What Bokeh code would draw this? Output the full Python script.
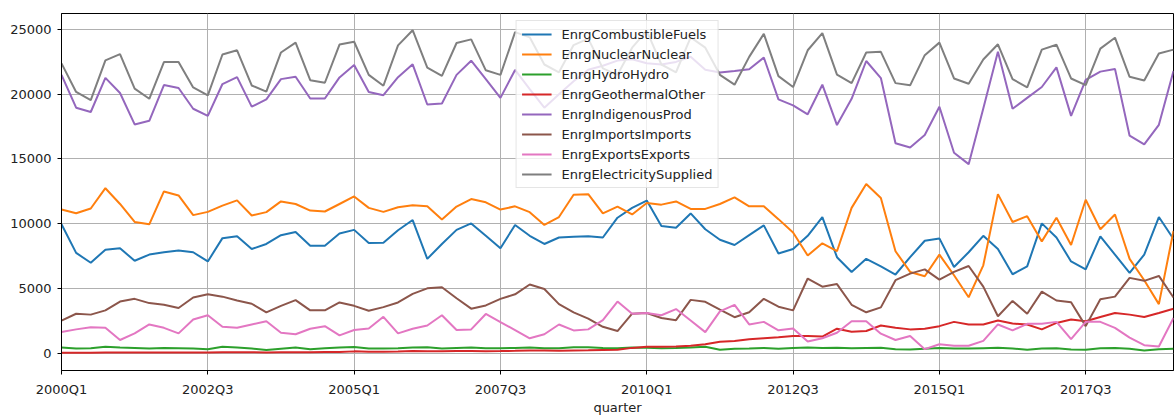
from bokeh.plotting import figure
from bokeh.models import Range1d, FixedTicker, Legend, LegendItem, ColumnDataSource
from bokeh.embed import file_html
from bokeh.resources import INLINE

quarters = [
    "2000Q1","2000Q2","2000Q3","2000Q4","2001Q1","2001Q2","2001Q3","2001Q4",
    "2002Q1","2002Q2","2002Q3","2002Q4","2003Q1","2003Q2","2003Q3","2003Q4",
    "2004Q1","2004Q2","2004Q3","2004Q4","2005Q1","2005Q2","2005Q3","2005Q4",
    "2006Q1","2006Q2","2006Q3","2006Q4","2007Q1","2007Q2","2007Q3","2007Q4",
    "2008Q1","2008Q2","2008Q3","2008Q4","2009Q1","2009Q2","2009Q3","2009Q4",
    "2010Q1","2010Q2","2010Q3","2010Q4","2011Q1","2011Q2","2011Q3","2011Q4",
    "2012Q1","2012Q2","2012Q3","2012Q4","2013Q1","2013Q2","2013Q3","2013Q4",
    "2014Q1","2014Q2","2014Q3","2014Q4","2015Q1","2015Q2","2015Q3","2015Q4",
    "2016Q1","2016Q2","2016Q3","2016Q4","2017Q1","2017Q2","2017Q3","2017Q4",
    "2018Q1","2018Q2","2018Q3","2018Q4","2019Q1",
]
tick_labels = ["2000Q1", "2002Q3", "2005Q1", "2007Q3", "2010Q1", "2012Q3", "2015Q1", "2017Q3"]

combustible_fuels = [
    9950, 7740, 6980, 7990, 8100, 7130, 7610, 7790, 7920, 7790,
    7080, 8880, 9030, 8040, 8430, 9110, 9360, 8300, 8300, 9240,
    9520, 8500, 8530, 9490, 10280, 7280, 8430, 9520, 10020, 9060,
    8100, 9900, 9060, 8430, 8930, 8980, 9030, 8930, 10460, 11220,
    11780, 9820, 9690, 10790, 9570, 8760, 8350, 9110, 9870, 7690,
    8040, 9060, 10510, 7410, 6270, 7280, 6700, 6070, 7410, 8680,
    8860, 6650, 7790, 9060, 8040, 6090, 6700, 10020, 8930, 7080,
    6470, 9010, 7610, 6190, 7610, 10510, 8810,
]
nuclear = [
    11090, 10810, 11170, 12740, 11520, 10130, 9950, 12490, 12180, 10660,
    10910, 11390, 11800, 10630, 10890, 11720, 11520, 11010, 10940, 11520,
    12100, 11220, 10910, 11270, 11420, 11340, 10330, 11320, 11900, 11650,
    11090, 11340, 10890, 9900, 10510, 12230, 12280, 10790, 11320, 10710,
    11600, 11470, 11720, 11140, 11140, 11520, 12030, 11340, 11340, 10350,
    9310, 7540, 8480, 7870, 11220, 13070, 11980, 7870, 6270, 5940,
    7610, 6010, 4310, 6780, 12280, 10130, 10580, 8630, 10460, 8350,
    11850, 9570, 10710, 7280, 5630, 3780, 9440,
]
hydro = [
    430, 350, 380, 480, 430, 400, 350, 400, 380, 350,
    300, 480, 430, 350, 230, 330, 430, 300, 380, 430,
    460, 350, 350, 380, 420, 440, 360, 400, 430, 370,
    380, 400, 420, 380, 370, 450, 440, 400, 380, 420,
    410, 380, 390, 420, 480, 250, 330, 350, 400, 330,
    400, 430, 400, 410, 380, 400, 410, 300, 280, 330,
    400, 360, 350, 380, 410, 360, 250, 350, 380, 280,
    260, 380, 400, 330, 200, 300, 330,
]
geothermal = [
    30, 30, 30, 40, 40, 40, 50, 50, 50, 50,
    50, 60, 60, 60, 50, 60, 70, 70, 80, 80,
    130, 110, 100, 120, 150, 140, 130, 150, 150, 140,
    150, 170, 200, 190, 180, 200, 210, 230, 250, 400,
    480, 480, 500, 560, 680, 880, 940, 1060, 1140, 1220,
    1320, 1320, 1270, 1880, 1650, 1700, 2130, 1950, 1830, 1880,
    2080, 2410, 2210, 2210, 2510, 2280, 2210, 1830, 2330, 2590,
    2460, 2790, 3100, 2970, 2790, 3100, 3430,
]
indigenous = [
    21500, 18960, 18630, 21270, 20100, 17670, 17950, 20710, 20480, 18880,
    18330, 20790, 21320, 19040, 19600, 21170, 21350, 19670, 19670, 21300,
    22260, 20180, 19930, 21320, 22310, 19210, 19290, 21500, 22590, 21170,
    19720, 21880, 20400, 18960, 20000, 21000, 21900, 22200, 22600, 22700,
    22400, 22300, 22500, 22900, 21900, 21680, 21800, 21930, 22840, 19600,
    19140, 18450, 20740, 17620, 19650, 22570, 21250, 16220, 15890, 16850,
    19040, 15480, 14600, 18900, 23280, 18880, 19720, 20560, 22080, 18330,
    21120, 21750, 21960, 16800, 16120, 17640, 21800,
]
imports = [
    2510, 3040, 2970, 3300, 3980, 4190, 3860, 3730, 3480, 4290,
    4540, 4360, 4060, 3810, 3150, 3650, 4090, 3300, 3300, 3910,
    3650, 3270, 3550, 3910, 4570, 5000, 5080, 4240, 3430, 3680,
    4190, 4540, 5300, 4950, 3780, 3150, 2660, 2030, 1700, 3040,
    3100, 2710, 2540, 4110, 3960, 3350, 2770, 3150, 4190, 3580,
    3300, 5760, 5130, 5330, 3730, 3150, 3530, 5630, 6140, 6470,
    5680, 6270, 6730, 5130, 2840, 4030, 3040, 4750, 4060, 3930,
    2080, 4160, 4360, 5810, 5580, 5960, 4290,
]
exports = [
    1620, 1830, 2000, 1950, 1010, 1520, 2210, 1950, 1520, 2590,
    2920, 2030, 1950, 2210, 2460, 1570, 1450, 1880, 2080, 1370,
    1780, 1900, 2800, 1520, 1880, 2130, 2920, 1780, 1830, 3020,
    2390, 1780, 1140, 1450, 2210, 1750, 1830, 2540, 3980, 3040,
    3100, 2920, 3400, 2510, 1620, 3220, 3730, 2210, 2410, 1760,
    1900, 890, 1140, 1570, 2460, 2460, 1500, 1010, 1320, 300,
    680, 560, 560, 940, 2210, 1750, 2260, 2260, 2410, 1070,
    2410, 2410, 1950, 1190, 610, 510, 2710,
]
electricity_supplied = [
    22390, 20180, 19540, 22620, 23100, 20430, 19650, 22490, 22490, 20530,
    19920, 23070, 23400, 20680, 20200, 23230, 23990, 21090, 20890, 23840,
    24060, 21500, 20660, 23780, 24950, 22060, 21420, 23960, 24240, 21850,
    21500, 24800, 24400, 22300, 21700, 23800, 24300, 22000, 21500, 23600,
    24900, 22300, 21700, 24400, 23600, 21500, 20740, 22890, 24670, 21400,
    20560, 23400, 24720, 21520, 20860, 23230, 23280, 20860, 20690, 23020,
    23990, 21220, 20810, 22690, 23860, 21170, 20530, 23450, 23830, 21220,
    20710, 23530, 24370, 21350, 21070, 23150, 23450,
]

series = [
    ("EnrgCombustibleFuels", combustible_fuels, "#1f77b4"),
    ("EnrgNuclearNuclear", nuclear, "#ff7f0e"),
    ("EnrgHydroHydro", hydro, "#2ca02c"),
    ("EnrgGeothermalOther", geothermal, "#d62728"),
    ("EnrgIndigenousProd", indigenous, "#9467bd"),
    ("EnrgImportsImports", imports, "#8c564b"),
    ("EnrgExportsExports", exports, "#e377c2"),
    ("EnrgElectricitySupplied", electricity_supplied, "#7f7f7f"),
]

idx = list(range(len(quarters)))
tick_pos = [quarters.index(t) for t in tick_labels]

p = figure(width=1174, height=417, output_backend="svg", toolbar_location=None,
           x_range=Range1d(0, len(quarters) - 1), y_range=Range1d(-1348, 26241),
           min_border_left=61, min_border_right=1, min_border_top=13, min_border_bottom=42)

FONT = "DejaVu Sans"
FS = "13px"

items = []
for name, vals, color in series:
    src = ColumnDataSource(dict(x=idx, y=vals))
    r = p.line("x", "y", source=src, line_color=color, line_width=2)
    items.append(LegendItem(label=name, renderers=[r]))

p.xaxis.ticker = FixedTicker(ticks=tick_pos)
p.xaxis.major_label_overrides = {pos: lab for pos, lab in zip(tick_pos, tick_labels)}
p.yaxis.ticker = FixedTicker(ticks=[0, 5000, 10000, 15000, 20000, 25000])
p.yaxis.formatter.use_scientific = False
p.xaxis.axis_label = "quarter"

for ax in (p.xaxis[0], p.yaxis[0]):
    ax.axis_line_color = "black"
    ax.axis_line_width = 1
    ax.major_tick_line_color = "black"
    ax.major_tick_in = 0
    ax.major_tick_out = 4
    ax.minor_tick_line_color = None
    ax.major_label_text_font = FONT
    ax.major_label_text_font_size = FS
    ax.major_label_text_color = "#222222"
    ax.axis_label_text_font = FONT
    ax.axis_label_text_font_size = FS
    ax.axis_label_text_font_style = "normal"
    ax.axis_label_text_color = "#222222"
p.xaxis.major_label_standoff = 7
p.xaxis.axis_label_standoff = 0
p.yaxis.major_label_standoff = 6

p.xgrid.ticker = FixedTicker(ticks=tick_pos)
for g in (p.xgrid[0], p.ygrid[0]):
    g.grid_line_color = "#b0b0b0"
    g.grid_line_width = 1

p.outline_line_color = "black"
p.outline_line_width = 1
p.background_fill_color = "white"
p.border_fill_color = "white"

legend = Legend(items=items, location="top_center", margin=7,
                label_text_font=FONT, label_text_font_size=FS, label_text_color="#222222",
                glyph_width=30, glyph_height=16, label_height=16, spacing=4,
                padding=5, label_standoff=10,
                background_fill_color="white", background_fill_alpha=0.8,
                border_line_color="#cccccc", border_line_width=1)
p.add_layout(legend, "center")

open("out.html", "w").write(file_html(p, INLINE))
